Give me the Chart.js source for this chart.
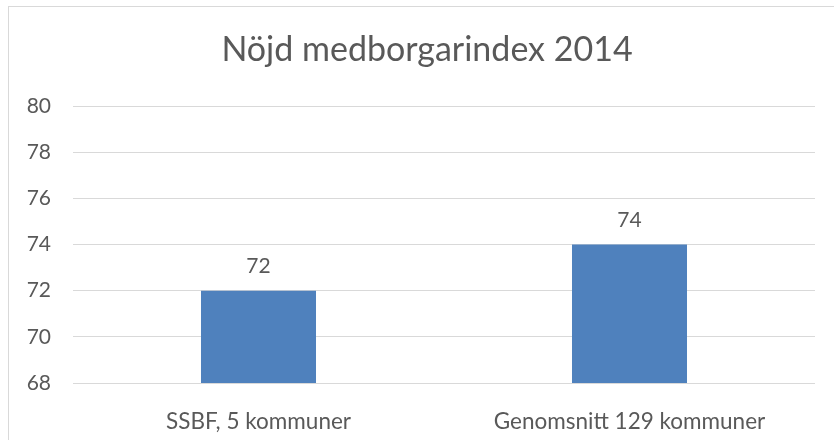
<!DOCTYPE html>
<html>
<head>
<meta charset="utf-8">
<script src="https://cdn.jsdelivr.net/npm/chart.js@4.4.0/dist/chart.umd.min.js"></script>
<style>
    html, body { margin: 0; padding: 0; background: #fff; overflow: hidden; }
    #wrap { position: relative; width: 834px; height: 440px; }
    #marco { position: absolute; left: 8px; top: 6px; width: 900px; height: 500px; border: 1px solid #d9d9d9; box-sizing: border-box; }
    #grafico { position: absolute; left: 0; top: 0; }
</style>
</head>
<body>
<div id="wrap">
    <div id="marco"></div>
    <canvas id="grafico" width="834" height="440"></canvas>
</div>
<script>
const titulo = 'Nöjd medborgarindex 2014';
const categorias = ['SSBF, 5 kommuner', 'Genomsnitt 129 kommuner'];
const valores = [72, 74];
const ejeMin = 68;
const ejeMax = 80;
const ejePaso = 2;

const fuente = 'Lato, "Open Sans", sans-serif';
const colorTexto = '#595959';

// Título y etiquetas de valor dibujados a mano
const pluginTextos = {
    id: 'textos',
    afterDatasetsDraw(chart) {
        const ctx = chart.ctx;
        ctx.save();
        ctx.fillStyle = colorTexto;
        ctx.textAlign = 'center';
        ctx.textBaseline = 'middle';
        ctx.font = '34px ' + fuente;
        ctx.fillText(titulo, 427, 50);
        ctx.font = '21px ' + fuente;
        chart.getDatasetMeta(0).data.forEach((barra, i) => {
            ctx.fillText(String(valores[i]), barra.x, barra.y - 24);
        });
        ctx.restore();
    }
};

new Chart(document.getElementById('grafico'), {
    type: 'bar',
    data: {
        labels: categorias,
        datasets: [{
            data: valores,
            backgroundColor: '#4f81bd',
            barPercentage: 0.31,
            categoryPercentage: 1
        }]
    },
    options: {
        responsive: false,
        animation: false,
        layout: { padding: { left: 0, right: 19, top: 106, bottom: 0 } },
        plugins: { legend: { display: false }, tooltip: { enabled: false } },
        scales: {
            x: {
                grid: { display: false },
                border: { display: false },
                ticks: { color: colorTexto, font: { family: fuente, size: 22.5 }, padding: 17 },
                afterFit(scale) { scale.height = 57; }
            },
            y: {
                min: ejeMin,
                max: ejeMax,
                grid: { color: '#d9d9d9', lineWidth: 1, drawTicks: false },
                border: { display: false },
                ticks: { stepSize: ejePaso, color: colorTexto, font: { family: fuente, size: 21 }, padding: 22 },
                afterFit(scale) { scale.width = 73; }
            }
        }
    },
    plugins: [pluginTextos]
});
</script>
</body>
</html>
